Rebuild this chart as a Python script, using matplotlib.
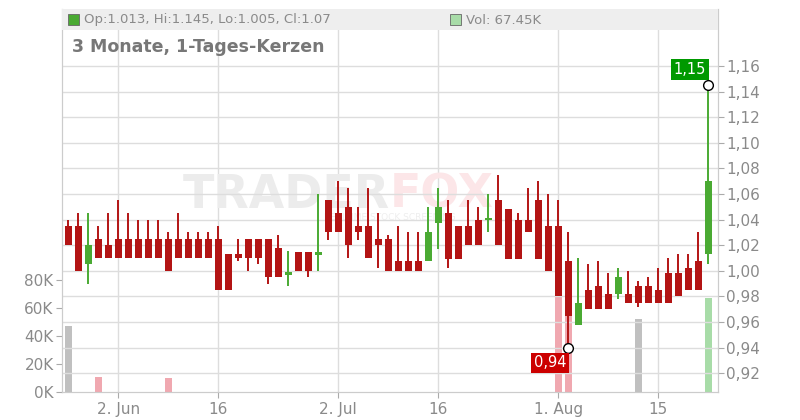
import matplotlib
matplotlib.use("Agg")
import matplotlib.pyplot as plt
from matplotlib.patches import Rectangle

opens  = [1.035,1.035,1.005,1.025,1.020,1.025,1.025,1.025,1.025,1.025,1.025,1.025,1.025,1.025,1.025,1.025,1.013,1.013,1.025,1.025,
          1.025,1.018,0.997,1.015,1.015,1.012,1.055,1.045,1.050,1.035,1.035,1.025,1.025,1.008,1.008,1.008,1.008,1.0376,1.045,1.035,
          1.035,1.040,1.0397,1.055,1.048,1.040,1.040,1.055,1.035,1.035,1.008,0.958,0.985,0.988,0.982,0.982,0.982,0.988,0.988,0.985,
          0.998,0.998,1.0024,1.008,1.013]
highs  = [1.040,1.045,1.045,1.035,1.045,1.055,1.045,1.040,1.040,1.040,1.030,1.045,1.030,1.030,1.030,1.035,1.013,1.025,1.025,1.025,
          1.025,1.028,1.0155,1.015,1.015,1.060,1.055,1.070,1.065,1.050,1.065,1.045,1.028,1.035,1.030,1.030,1.050,1.065,1.055,1.035,
          1.055,1.050,1.060,1.075,1.048,1.045,1.065,1.070,1.060,1.055,1.030,1.010,1.005,1.008,0.998,1.002,1.000,0.992,0.995,1.0024,
          1.010,1.013,1.013,1.030,1.145]
lows   = [1.020,1.000,0.990,1.010,1.010,1.010,1.010,1.010,1.010,1.010,1.000,1.010,1.010,1.010,1.010,0.985,0.985,1.008,1.000,1.005,
          0.990,0.995,0.988,1.000,0.995,1.000,1.024,1.030,1.010,1.024,1.010,1.002,1.000,1.000,1.000,1.000,1.008,1.017,1.002,1.009,
          1.020,1.020,1.030,1.020,1.009,1.009,1.030,1.009,1.000,0.980,0.940,0.958,0.970,0.970,0.970,0.978,0.975,0.972,0.975,0.975,
          0.975,0.980,0.985,0.985,1.005]
closes = [1.020,1.000,1.020,1.010,1.010,1.010,1.010,1.010,1.010,1.010,1.000,1.010,1.010,1.010,1.010,0.985,0.985,1.010,1.010,1.010,
          0.995,0.995,0.999,1.000,1.000,1.015,1.030,1.030,1.020,1.030,1.010,1.020,1.000,1.000,1.000,1.000,1.030,1.050,1.009,1.009,
          1.020,1.020,1.040,1.020,1.009,1.009,1.030,1.009,1.000,0.980,0.965,0.975,0.970,0.970,0.970,0.995,0.975,0.975,0.975,0.975,
          0.975,0.980,0.985,0.985,1.070]
volumes_k = {0: 47, 3: 10.7, 10: 10, 49: 68, 50: 68, 57: 52, 64: 67.45}
volume_kind = {0: "flat", 3: "down", 10: "down", 49: "down", 50: "down", 57: "flat", 64: "up"}
date_pos = [5, 15, 27, 37, 49, 59]
date_labels = ["2. Jun", "16", "2. Jul", "16", "1. Aug", "15"]
price_ticks = [0.92,0.94,0.96,0.98,1.00,1.02,1.04,1.06,1.08,1.10,1.12,1.14,1.16]
vol_ticks = [0, 20, 40, 60, 80]

RED = "#b31414"; GREEN = "#4aaa33"
VCOL = {"down": "#f0a8b0", "flat": "#c0c0c0", "up": "#a8dca8"}
GRAY = "#8a8a8a"

fig = plt.figure(figsize=(8, 4.2), dpi=100)
W, H = 800, 420
L, R, T, B = 62, 718, 9, 392
axv = fig.add_axes([L/W, 1-B/H, (R-L)/W, (B-T)/H])
ax = axv.twinx()
n = len(opens)
xlim = (-0.63, 64.97)

def ax_frac(px, py):
    return ((px-L)/(R-L), (B-py)/(B-T))

# watermark (behind everything)
axv.text(*ax_frac(390, 195), "TRADER", transform=axv.transAxes, fontsize=33, fontweight="bold",
         color="#ececec", ha="right", va="center", zorder=0.5)
axv.text(*ax_frac(390, 195), "FOX", transform=axv.transAxes, fontsize=33, fontweight="bold",
         color="#fce6e8", ha="left", va="center", zorder=0.5)
axv.text(*ax_frac(390, 218), "REALTIME STOCK SCREENING", transform=axv.transAxes, fontsize=6.5,
         color="#eeeeee", ha="center", va="center", zorder=0.5)

# volume
for i, v in volumes_k.items():
    axv.bar(i, v, width=0.7, color=VCOL[volume_kind[i]], zorder=1)
axv.set_ylim(0, (B-T)/1.4)
axv.set_xlim(*xlim)
axv.set_yticks(vol_ticks)
axv.set_yticklabels([f"{v}K" for v in vol_ticks])
axv.tick_params(axis="y", colors="#aaaaaa", labelcolor=GRAY, labelsize=11, length=4, pad=2)

# price
ax.set_zorder(axv.get_zorder() + 1)
ax.patch.set_visible(False)
for i in range(n):
    o, h, l, c = opens[i], highs[i], lows[i], closes[i]
    col = GREEN if c > o else RED
    ax.vlines(i, l, h, color=col, lw=1.4, zorder=3)
    lo, hi = min(o, c), max(o, c)
    ax.add_patch(Rectangle((i-0.35, lo), 0.7, max(hi-lo, 0.0012), color=col, zorder=4, lw=0))
ax.set_ylim(1.16-(B-66)/1280, 1.16+(66-T)/1280)
ax.set_xlim(*xlim)
ax.set_yticks(price_ticks)
ax.set_yticklabels([f"{t:.2f}".replace(".", ",") for t in price_ticks])
ax.tick_params(axis="y", colors="#aaaaaa", labelcolor=GRAY, labelsize=11, length=4, pad=2)
ax.grid(axis="y", color="#dddddd", lw=1, zorder=0)
axv.set_xticks(date_pos)
axv.set_xticklabels(date_labels)
axv.tick_params(axis="x", colors="#aaaaaa", labelcolor=GRAY, labelsize=11, length=4, pad=3)
for p in date_pos:
    axv.axvline(p, color="#dddddd", lw=1, zorder=0)
for a in (ax, axv):
    for s in a.spines.values():
        s.set_color("#cccccc")
    a.spines["top"].set_visible(False)

# high/low markers
ih = max(range(n), key=lambda k: highs[k]); il = min(range(n), key=lambda k: lows[k])
ax.plot([ih], [highs[ih]], "o", mfc="white", mec="black", ms=7, mew=1, zorder=6)
ax.plot([il], [lows[il]], "o", mfc="white", mec="black", ms=7, mew=1, zorder=6)
ax.text(ih-0.2, highs[ih]+0.012, f"{highs[ih]:.2f}".replace(".", ","), color="white", ha="right", va="center",
        fontsize=10.5, bbox=dict(boxstyle="square,pad=0.2", fc="#009900", ec="none"), zorder=7)
ax.text(il-0.2, lows[il]-0.012, f"{lows[il]:.2f}".replace(".", ","), color="white", ha="right", va="center",
        fontsize=10.5, bbox=dict(boxstyle="square,pad=0.2", fc="#cc0000", ec="none"), zorder=7)

# header
fig.patches.append(Rectangle((L/W, 1-30/H), (R-L)/W, 21/H, transform=fig.transFigure, fc="#eeeeee", ec="none", zorder=5))
fig.patches.append(Rectangle((68/W, 1-25/H), 11/W, 11/H, transform=fig.transFigure, fc=GREEN, ec="#666666", lw=0.6, zorder=6))
fig.text(84/W, 1-20/H, f"Op:{opens[-1]}, Hi:{highs[-1]}, Lo:{lows[-1]}, Cl:{closes[-1]}", fontsize=9.5, color=GRAY, va="center", zorder=7)
fig.patches.append(Rectangle((450/W, 1-25/H), 11/W, 11/H, transform=fig.transFigure, fc="#a8dca8", ec="#666666", lw=0.6, zorder=6))
fig.text(466/W, 1-20/H, f"Vol: {volumes_k[64]}K", fontsize=9.5, color=GRAY, va="center", zorder=7)
fig.text(72/W, 1-47/H, "3 Monate, 1-Tages-Kerzen", fontsize=12.5, fontweight="bold", color="#777777", va="center")

fig.savefig("out.png", dpi=100)
